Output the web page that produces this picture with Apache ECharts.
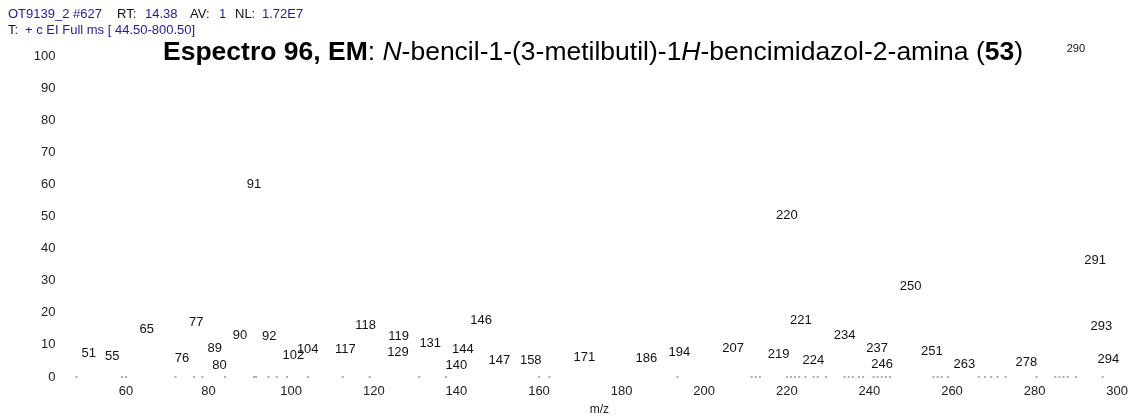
<!DOCTYPE html>
<html><head><meta charset="utf-8">
<script src="https://cdn.jsdelivr.net/npm/echarts@6/dist/echarts.min.js"></script>
<style>html,body{margin:0;padding:0;background:#fff}#c{width:1134px;height:416px}</style>
</head><body><div id="c"></div>
<script>
// m/z of labelled peaks
const peakMz = [51,55,65,76,77,80,89,90,91,92,102,104,117,118,119,129,131,140,144,146,147,158,171,186,194,207,219,220,221,224,234,237,246,250,251,263,278,290,291,293,294];
// relative abundance (%)
const peakInt = [4.8,3.7,12.2,3.2,14.3,1.1,6.3,10.4,57.4,10.1,4.2,6.0,6.0,13.5,10.1,5.0,7.8,0.9,6.0,14.9,2.4,2.4,3.5,3.2,5.0,6.1,4.5,47.8,14.9,2.6,10.4,6.3,1.3,25.7,5.2,1.4,1.8,100,33.8,13.0,2.9];
// small marks seen on the baseline (m/z)
const baseMz = [48,59,60,72,76.5,78.5,84,91,91.5,94.5,96.5,99,104,112.5,119,131,137.5,160,162.5,193.5,211.5,212.5,213.5,220,221,222,223,224.5,226.5,227.5,229.5,234,235,236,237.5,238.5,241,242,243,244,245,255.5,256.5,257.5,259,266.5,268,269.5,271,273,280.5,285,286,287,288,290,296.5];
const xTicks = {min:40, max:300, interval:20};
const yTicks = {min:0, max:100, interval:10};
// header texts
const headerLine1 = [['OT9139_2 #627',true],['RT:',false],['14.38',true],['AV:',false],['1',true],['NL:',false],['1.72E7',true]];
const headerLine2 = [['T:',false],['+ c EI Full ms [ 44.50-800.50]',true]];

// label horizontal shifts (px) used by the instrument software to avoid overlaps
const labelShift = {55:7,76:-10,80:11,89:-31,90:-10,92:11,102:-6,117:-16,119:29,129:-13,131:11,144:-10,147:14,219:-4,221:10,224:10,237:20,246:-12,251:17,291:15,293:13,294:16};
const headerX1 = [8,117,145,190,219,235,262];
const headerX2 = [8,25];

const FONT = 'Liberation Sans, Arial, sans-serif';
const BLUE = '#1c1ca8';

const peakData = peakMz.map((m,i)=>{
  const item = {value:[m, peakInt[i]]};
  const lab = {};
  if (labelShift[m]) lab.offset = [labelShift[m], 0];
  if (m === 290) { lab.fontSize = 11; }
  item.label = lab;
  return item;
});
const baseData = baseMz.map(m=>[m,0]);

const graphics = [];
headerLine1.forEach((h,i)=>graphics.push({type:'text', left:headerX1[i], top:8,
  style:{text:h[0], fill:h[1]?BLUE:'#111', font:'13px '+FONT}}));
headerLine2.forEach((h,i)=>graphics.push({type:'text', left:headerX2[i], top:24,
  style:{text:h[0], fill:h[1]?BLUE:'#111', font:'13px '+FONT}}));

const chart = echarts.init(document.getElementById('c'), null, {renderer:'canvas'});
chart.setOption({
  animation:false,
  backgroundColor:'#fff',
  graphic:graphics,
  title:[{
    left:163, top:39, padding:0,
    text:'{b|Espectro 96, EM}{n|: }{i|N}{n|-bencil-1-(3-metilbutil)-1}{i|H}{n|-bencimidazol-2-amina (}{b|53}{n|)}',
    textStyle:{fontFamily:FONT,fontSize:26.5,color:'#000',
      rich:{
        b:{fontFamily:FONT,fontSize:26.5,fontWeight:'bold',color:'#000'},
        n:{fontFamily:FONT,fontSize:26.5,fontWeight:'normal',color:'#000'},
        i:{fontFamily:FONT,fontSize:26.5,fontWeight:'normal',fontStyle:'italic',color:'#000'}
      }}
  }],
  grid:{left:43.4, right:16.8, top:56, bottom:39, containLabel:false, outerBoundsMode:'none'},
  xAxis:{
    type:'value', min:xTicks.min, max:xTicks.max, interval:xTicks.interval,
    name:'m/z', nameLocation:'middle', nameGap:27,
    nameTextStyle:{fontFamily:FONT,fontSize:12,color:'#222',padding:[0,0,0,38]},
    axisLine:{show:false}, axisTick:{show:false}, splitLine:{show:false},
    axisLabel:{fontFamily:FONT,fontSize:13,color:'#222',margin:8,showMinLabel:false}
  },
  yAxis:{
    type:'value', min:yTicks.min, max:yTicks.max, interval:yTicks.interval,
    offset:-20,
    axisLine:{show:false}, axisTick:{show:false}, splitLine:{show:false},
    axisLabel:{fontFamily:FONT,fontSize:13,color:'#222',margin:8}
  },
  series:[{
    type:'bar', name:'peaks', data:peakData, barWidth:1,
    itemStyle:{color:'rgba(255,255,255,0)'},
    label:{show:true, position:'top', distance:2, fontFamily:FONT, fontSize:13, color:'#111',
      formatter:p=>String(p.value[0])},
    z:3
  },{
    type:'scatter', name:'baseline', data:baseData, symbol:'rect', symbolSize:[2,1],
    itemStyle:{color:'#333'}, silent:true
  }]
});
</script></body></html>
